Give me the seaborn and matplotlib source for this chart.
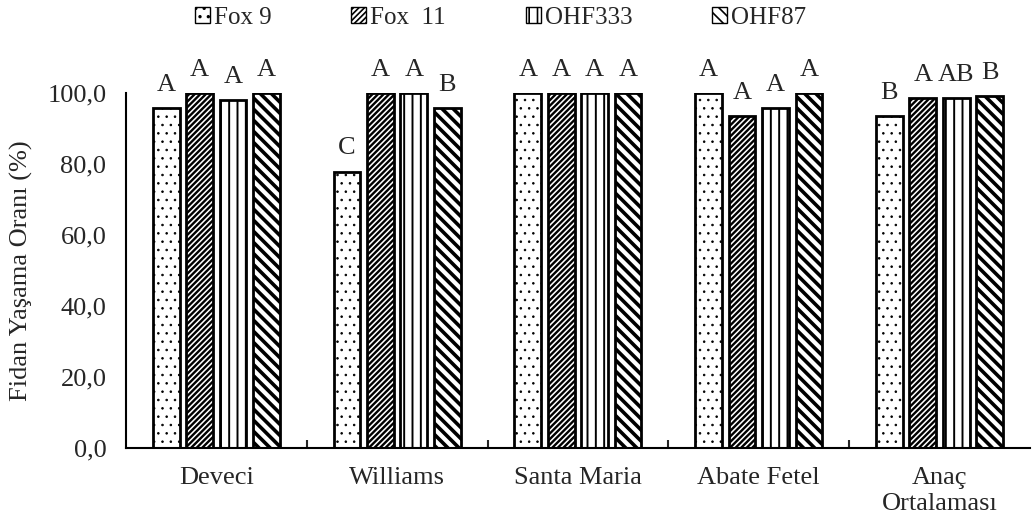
import numpy as np
import pandas as pd
import matplotlib
matplotlib.use("Agg")
import matplotlib.pyplot as plt
from matplotlib.ticker import FuncFormatter, FixedLocator
import seaborn as sns

sns.set_style("white")
plt.rcParams["font.family"] = ["Liberation Serif", "DejaVu Serif"]
plt.rcParams["hatch.linewidth"] = 1.2

# data
cesitler = ["Deveci", "Williams", "Santa Maria", "Abate Fetel", "Anaç\nOrtalaması"]
anaclar = ["Fox 9", "Fox  11", "OHF333", "OHF87"]
fox9 = [95.8, 77.9, 100.0, 100.0, 93.6]
fox11 = [100.0, 100.0, 100.0, 93.6, 98.6]
ohf333 = [98.0, 100.0, 100.0, 95.8, 98.6]
ohf87 = [100.0, 95.8, 100.0, 100.0, 99.2]
harfler = {
    "Fox 9": ["A", "C", "A", "A", "B"],
    "Fox  11": ["A", "A", "A", "A", "A"],
    "OHF333": ["A", "A", "A", "A", "AB"],
    "OHF87": ["A", "B", "A", "A", "B"],
}

rows = []
for anac, vals in zip(anaclar, [fox9, fox11, ohf333, ohf87]):
    for c, v in zip(cesitler, vals):
        rows.append({"cesit": c, "anac": anac, "oran": v})
df = pd.DataFrame(rows)

fig = plt.figure(figsize=(10.32, 5.24), dpi=100)
ax = fig.add_axes([0.122, 0.145, 0.876, 0.677])

sns.barplot(data=df, x="cesit", y="oran", hue="anac", order=cesitler, hue_order=anaclar,
            palette=["white"] * 4, edgecolor="black", linewidth=2.0,
            width=0.74, gap=0.2, ax=ax, legend=True)

hatches = ["..", "//////", "||", "\\\\\\"]
hatch_lw = [0.6, 1.7, 1.4, 2.6]
for cont, h, lw, anac in zip(ax.containers, hatches, hatch_lw, anaclar):
    for bar, harf in zip(cont, harfler[anac]):
        bar.set_hatch(h)
        if hasattr(bar, "set_hatch_linewidth"):
            bar.set_hatch_linewidth(lw)
        ax.text(bar.get_x() + bar.get_width() / 2, bar.get_height() + 3.5, harf,
                ha="center", va="bottom", fontsize=19, clip_on=False)

ax.set_ylim(0, 100)
ax.set_xlim(-0.5, 4.5)
ax.yaxis.set_major_formatter(FuncFormatter(lambda v, p: f"{v:.1f}".replace(".", ",")))
ax.set_yticks([0, 20, 40, 60, 80, 100])
ax.tick_params(axis="y", length=0, labelsize=19, pad=14)
ax.tick_params(axis="x", which="major", length=0, labelsize=19, pad=14)
ax.xaxis.set_minor_locator(FixedLocator([0.5, 1.5, 2.5, 3.5]))
ax.tick_params(axis="x", which="minor", direction="in", length=6, width=1.5, bottom=True)
ax.set_xlabel("")
ax.set_ylabel("Fidan Yaşama Oranı (%)", fontsize=19, labelpad=10)
for lab in ax.get_xticklabels():
    lab.set_linespacing(1.2)

for s in ["top", "right"]:
    ax.spines[s].set_visible(False)
for s in ["left", "bottom"]:
    ax.spines[s].set_color("black")
    ax.spines[s].set_linewidth(1.5)

handles, labels = ax.get_legend_handles_labels()
ax.legend_.remove()
for hd, h in zip(handles, hatches):
    hd.set_hatch(h)
    hd.set_linewidth(1.0)
fig.legend(handles, labels, loc="upper center", bbox_to_anchor=(0.485, 1.03), ncol=4,
           frameon=False, fontsize=18, handlelength=0.6, handleheight=0.6,
           handletextpad=0.15, columnspacing=3.2)

fig.savefig("out.png", dpi=100)
